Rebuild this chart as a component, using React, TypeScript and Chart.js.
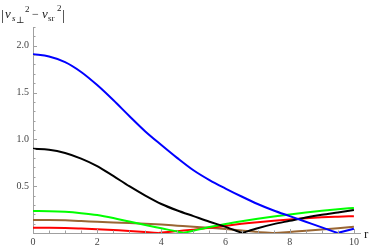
import React, { useEffect, useRef } from "react";
import { Chart, registerables } from "chart.js";

Chart.register(...registerables);

// x positions (r) and values for each curve
const blueR = [0, 0.5, 1, 1.5, 2, 2.5, 3, 3.5, 4, 4.5, 5, 5.5, 6, 6.5, 7, 7.5, 8, 8.5, 9, 9.49, 10];
const blueV = [1.91, 1.885, 1.825, 1.72, 1.58, 1.42, 1.25, 1.085, 0.94, 0.8, 0.67, 0.565, 0.475, 0.39, 0.31, 0.24, 0.18, 0.12, 0.06, 0, 0.045];

const blackR = [0, 0.5, 1, 1.5, 2, 2.5, 3, 3.5, 4, 4.5, 5, 5.5, 6, 6.52, 7, 7.5, 8, 8.5, 9, 9.5, 10];
const blackV = [0.9, 0.89, 0.855, 0.795, 0.715, 0.61, 0.5, 0.4, 0.31, 0.24, 0.18, 0.12, 0.065, 0, 0.05, 0.095, 0.13, 0.165, 0.195, 0.22, 0.245];

const greenR = [0, 0.5, 1, 1.5, 2, 2.5, 3, 3.5, 4, 4.5, 4.68, 5, 5.5, 6, 6.5, 7, 7.5, 8, 8.5, 9, 9.5, 10];
const greenV = [0.235, 0.233, 0.226, 0.212, 0.192, 0.16, 0.122, 0.085, 0.05, 0.015, 0, 0.025, 0.063, 0.097, 0.126, 0.152, 0.176, 0.198, 0.218, 0.237, 0.254, 0.268];

const redR = [0, 0.5, 1, 1.5, 2, 2.5, 3, 3.5, 3.9, 4.5, 5, 5.5, 6, 6.5, 7, 7.5, 8, 8.5, 9, 9.5, 10];
const redV = [0.057, 0.056, 0.053, 0.047, 0.04, 0.031, 0.022, 0.01, 0, 0.02, 0.036, 0.055, 0.076, 0.098, 0.116, 0.131, 0.145, 0.157, 0.167, 0.174, 0.18];

const brownR = [0, 0.5, 1, 1.5, 2, 2.5, 3, 3.5, 4, 4.5, 5, 5.5, 6, 6.5, 7, 7.54, 8, 8.5, 9, 9.5, 10];
const brownV = [0.14, 0.139, 0.135, 0.128, 0.12, 0.113, 0.106, 0.099, 0.09, 0.078, 0.066, 0.055, 0.042, 0.027, 0.012, 0, 0.011, 0.023, 0.037, 0.052, 0.068];

const xTicks = [0, 2, 4, 6, 8, 10];
const yTicks = [0.5, 1.0, 1.5, 2.0];
const X_MAX = 10.19;
const Y_MAX = 2.2;

const SERIF = "'Liberation Serif', 'Times New Roman', 'DejaVu Serif', serif";
const axisColor = "#a0a0a0";

// split a curve at its zero so the kink stays sharp
const splitAtZero = (xs: number[], ys: number[]) => {
  const k = ys.indexOf(0);
  const pts = xs.map((x, i) => ({ x, y: ys[i] }));
  if (k <= 0) return [pts];
  return [pts.slice(0, k + 1), pts.slice(k)];
};

const decorPlugin = {
  id: "decor",
  afterDraw(chart: any) {
    const ctx = chart.ctx;
    const xs = chart.scales.x;
    const ys = chart.scales.y;
    const x0 = xs.getPixelForValue(0);
    const y0 = ys.getPixelForValue(0);
    ctx.save();
    ctx.strokeStyle = axisColor;
    ctx.lineWidth = 1;
    for (let i = 1; i <= 22; i++) {
      const v = i / 10;
      const py = Math.round(ys.getPixelForValue(v)) + 0.5;
      const len = i % 5 === 0 ? 4 : 2.5;
      ctx.beginPath();
      ctx.moveTo(x0, py);
      ctx.lineTo(x0 + len, py);
      ctx.stroke();
    }
    for (let i = 1; i <= 20; i++) {
      const v = i / 2;
      const px = Math.round(xs.getPixelForValue(v)) + 0.5;
      const len = i % 4 === 0 ? 4 : 2.5;
      ctx.beginPath();
      ctx.moveTo(px, y0);
      ctx.lineTo(px, y0 - len);
      ctx.stroke();
    }
    ctx.fillStyle = "#222";
    ctx.textBaseline = "alphabetic";
    ctx.textAlign = "left";
    ctx.font = "13px " + SERIF;
    ctx.fillText("r", 364, 238);
    const segs: [string, number, number, string][] = [
      ["|", 1, 20, "15px " + SERIF],
      ["v", 5, 18, "italic 13px " + SERIF],
      ["s", 12, 21, "italic 9px " + SERIF],
      ["\u22A5", 16, 23, "9px 'DejaVu Serif', serif"],
      ["2", 25, 12, "9px " + SERIF],
      ["\u2212", 32, 18, "12px " + SERIF],
      ["v", 42, 18, "italic 13px " + SERIF],
      ["sr", 48, 21, "9px " + SERIF],
      ["2", 57, 11, "9px " + SERIF],
      ["|", 62, 20, "15px " + SERIF],
    ];
    for (const [t, x, y, f] of segs) {
      ctx.font = f;
      ctx.fillText(t, x, y);
    }
    ctx.restore();
  },
};

export default function App() {
  const ref = useRef<HTMLCanvasElement>(null);
  useEffect(() => {
    if (!ref.current) return;
    const curves: [string, number[], number[], string][] = [
      ["blue", blueR, blueV, "#0000ff"],
      ["black", blackR, blackV, "#000000"],
      ["green", greenR, greenV, "#00ff00"],
      ["red", redR, redV, "#ff0000"],
      ["brown", brownR, brownV, "#996633"],
    ];
    const datasets: any[] = [];
    for (const [label, xs, ys, color] of curves) {
      for (const part of splitAtZero(xs, ys)) {
        datasets.push({
          label,
          data: part,
          borderColor: color,
          backgroundColor: color,
          borderWidth: 2,
          pointRadius: 0,
          cubicInterpolationMode: "monotone",
          fill: false,
        });
      }
    }
    const chart = new Chart(ref.current, {
      type: "line",
      data: { datasets },
      options: {
        animation: false,
        responsive: false,
        layout: { padding: { left: 0, top: 27, right: 14, bottom: 0 } },
        plugins: { legend: { display: false }, tooltip: { enabled: false } },
        scales: {
          x: {
            type: "linear",
            min: 0,
            max: X_MAX,
            grid: { display: false, drawTicks: false },
            border: { display: true, color: axisColor, width: 1 },
            afterBuildTicks: (s: any) => {
              s.ticks = xTicks.map((v) => ({ value: v }));
            },
            afterFit: (s: any) => {
              s.height = 14;
            },
            ticks: {
              padding: 3,
              maxRotation: 0,
              autoSkip: false,
              color: "#444",
              font: { family: SERIF, size: 10 },
              callback: (v: any) => String(v),
            },
          },
          y: {
            type: "linear",
            min: 0,
            max: Y_MAX,
            grid: { display: false, drawTicks: false },
            border: { display: true, color: axisColor, width: 1 },
            afterBuildTicks: (s: any) => {
              s.ticks = yTicks.map((v) => ({ value: v }));
            },
            afterFit: (s: any) => {
              s.width = 33;
            },
            ticks: {
              padding: 4,
              autoSkip: false,
              color: "#444",
              font: { family: SERIF, size: 10 },
              callback: (v: any) => Number(v).toFixed(1),
            },
          },
        },
      },
      plugins: [decorPlugin],
    });
    return () => chart.destroy();
  }, []);
  return (
    <div style={{ position: "fixed", left: 0, top: 0, width: 374, height: 247, background: "#fff" }}>
      <canvas ref={ref} width={374} height={247} style={{ width: 374, height: 247, display: "block" }} />
    </div>
  );
}
